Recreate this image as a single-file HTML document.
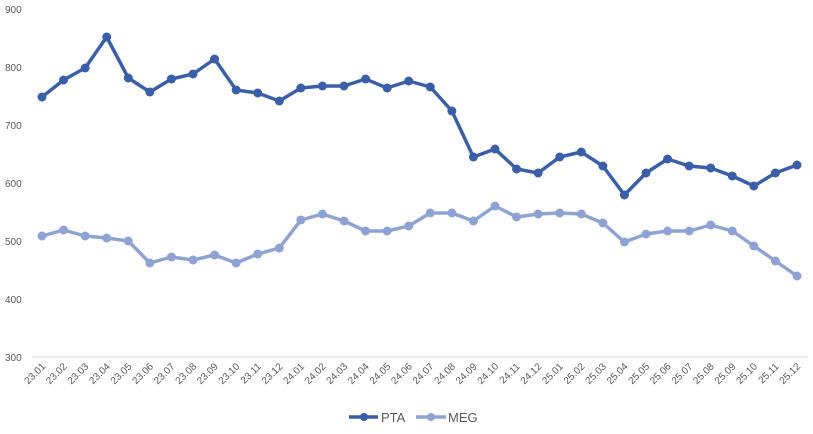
<!DOCTYPE html>
<html><head><meta charset="utf-8"><style>
body{margin:0;background:#fff;width:813px;height:429px;overflow:hidden}
svg text{font-family:"Liberation Sans",sans-serif;fill:#595959}
</style></head><body>
<svg id="s" width="813" height="429" xmlns="http://www.w3.org/2000/svg">
<line x1="32" y1="357" x2="808" y2="357" stroke="#d9d9d9" stroke-width="1"/>
<g font-size="10" text-anchor="start">
<text x="5" y="13">900</text><text x="5" y="71">800</text><text x="5" y="129">700</text>
<text x="5" y="187">600</text><text x="5" y="245">500</text><text x="5" y="303">400</text><text x="5" y="361">300</text>
</g>
<g id="xl" font-size="10"></g>
<g id="ser"></g>
<line x1="349" y1="417" x2="378" y2="417" stroke="#3b5ea8" stroke-width="3.5"/>
<circle cx="364" cy="417" r="4" fill="#3b5ea8"/>
<text x="381" y="422" font-size="13">PTA</text>
<line x1="416" y1="417" x2="446" y2="417" stroke="#8fa2d4" stroke-width="3.5"/>
<circle cx="431" cy="417" r="4" fill="#8fa2d4"/>
<text x="448" y="422" font-size="13">MEG</text>
</svg>
<script>
var pta=[97,80,68,37,78,92,79,74,59,90,93,101,88,86,86,79,88,81,87,111,157,149,169,173,157,152,166,195,173,159,166,168,176,186,173,165];
var meg=[236,230,236,238,241,263,257,260,255,263,254,248,220,214,221,231,231,226,213,213,221,206,217,214,213,214,223,242,234,231,231,225,231,246,261,276];
var ns="http://www.w3.org/2000/svg",ser=document.getElementById("ser"),xl=document.getElementById("xl");
function X(i){return 42+i*755/35;}
function draw(d,c){var p=d.map(function(y,i){return X(i).toFixed(1)+","+y}).join(" ");
var pl=document.createElementNS(ns,"polyline");pl.setAttribute("points",p);pl.setAttribute("fill","none");pl.setAttribute("stroke",c);pl.setAttribute("stroke-width","3.5");pl.setAttribute("stroke-linejoin","round");ser.appendChild(pl);
d.forEach(function(y,i){var ci=document.createElementNS(ns,"circle");ci.setAttribute("cx",X(i));ci.setAttribute("cy",y);ci.setAttribute("r","4.5");ci.setAttribute("fill",c);ser.appendChild(ci);});}
draw(meg,"#8fa2d4");draw(pta,"#3b5ea8");
var k=0;for(var yr=23;yr<=25;yr++)for(var m=1;m<=12;m++){var t=document.createElementNS(ns,"text");var x=X(k)+4,y=367;
t.setAttribute("x",x);t.setAttribute("y",y);t.setAttribute("text-anchor","end");t.setAttribute("transform","rotate(-45 "+x+" "+y+")");
t.textContent=yr+"."+(m<10?"0"+m:m);xl.appendChild(t);k++;}
</script>
</body></html>
